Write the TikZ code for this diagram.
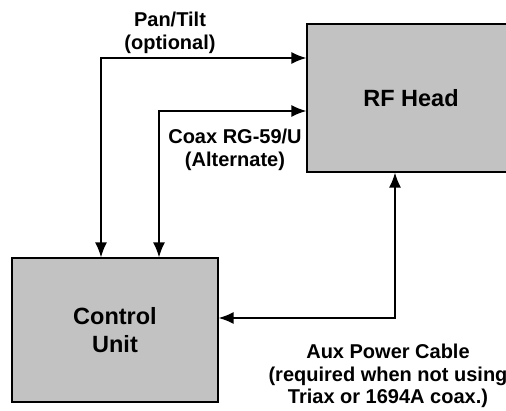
\documentclass[tikz,border=0pt]{standalone}
\usepackage{fontspec}
\setmainfont{Liberation Sans}
\usetikzlibrary{arrows.meta}
\begin{document}
\begin{tikzpicture}[x=1pt,y=-1pt,
  box/.style={draw=black,line width=1.2pt,fill=black!24,inner sep=0pt,font=\fontsize{23.5}{28}\selectfont\bfseries,align=center},
  conn/.style={line width=1.6pt,{Latex[length=15pt,width=12pt]}-{Latex[length=15pt,width=12pt]}},
  lbl/.style={font=\fontsize{20}{22.5}\selectfont\bfseries,align=center,inner sep=0pt}]
\useasboundingbox (0,0) rectangle (506,411);
\clip (0,0) rectangle (506,411);
\node[box,minimum width=208pt,minimum height=148pt] (rf) at (411,98) {RF Head};
\node[box,minimum width=206pt,minimum height=144pt] (ctl) at (115,330) {Control\\Unit};
\coordinate (p1) at (101,58);
\coordinate (p2) at (159,111);
\coordinate (p3) at (395,318);
\draw[conn] (ctl.north -| p1) |- (rf.west |- p1);
\draw[conn] (ctl.north -| p2) |- (rf.west |- p2);
\draw[conn] (ctl.east |- p3) -| (rf.south -| p3);
\node[lbl] (l1) at (170,33) {Pan/Tilt\\(optional)};
\node[lbl] (l2) at (235,150) {Coax RG-59/U\\(Alternate)};
\node[lbl] (l3) at (388,376) {Aux Power Cable\\(required when not using\\Triax or 1694A coax.)};
\end{tikzpicture}
\end{document}
